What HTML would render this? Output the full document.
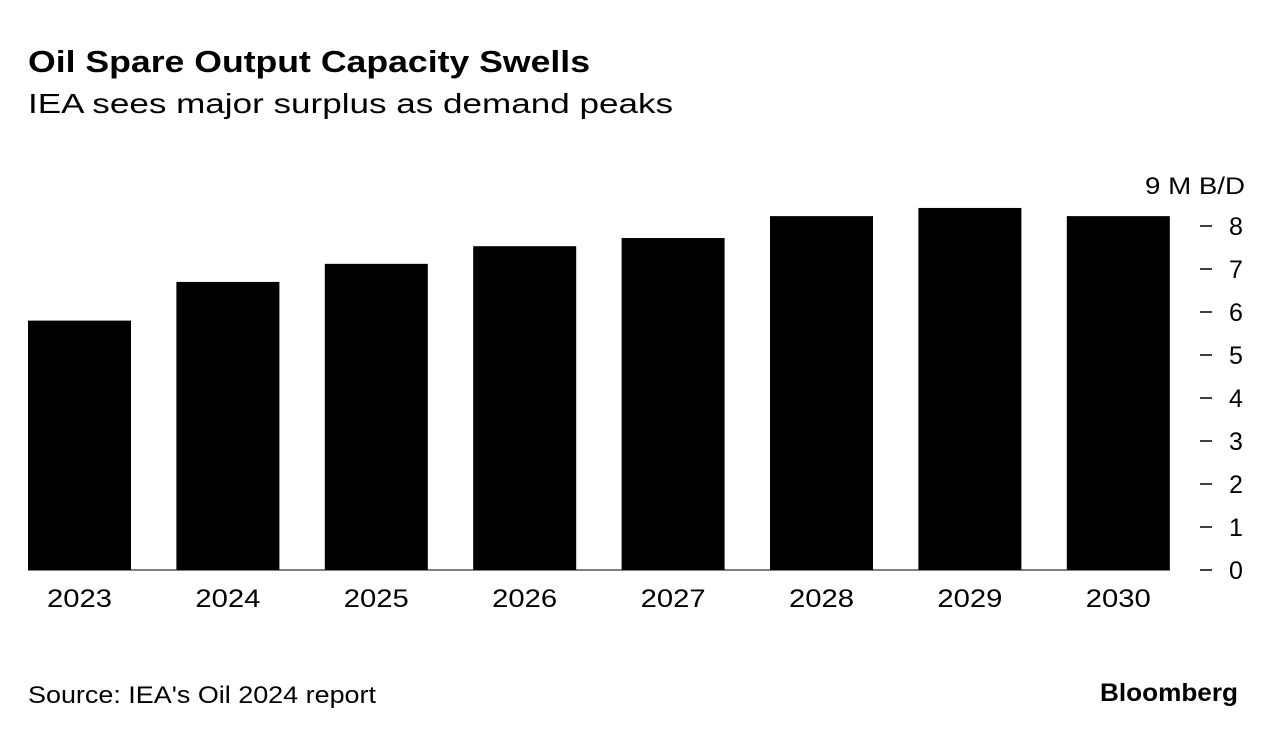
<!DOCTYPE html>
<html><head><meta charset="utf-8"><style>
body{margin:0;background:#fff;width:1278px;height:736px;overflow:hidden;font-family:"Liberation Sans",sans-serif}
svg{display:block}
</style></head><body>
<svg width="1278" height="736" id="c">
<text x="28" y="72" font-size="31" font-weight="bold" fill="#000" textLength="562" lengthAdjust="spacingAndGlyphs">Oil Spare Output Capacity Swells</text>
<text x="28" y="113" font-size="28" fill="#000" textLength="645" lengthAdjust="spacingAndGlyphs">IEA sees major surplus as demand peaks</text>
<text x="1145" y="194" font-size="24" fill="#000" textLength="100" lengthAdjust="spacingAndGlyphs">9 M B/D</text>
<text x="28" y="703" font-size="24" fill="#000" textLength="348" lengthAdjust="spacingAndGlyphs">Source: IEA's Oil 2024 report</text>
<text x="1100" y="701" font-size="25" font-weight="bold" fill="#000" textLength="138" lengthAdjust="spacingAndGlyphs">Bloomberg</text>
<g id="bars"></g><g id="axis"></g>
</svg>
<script>
const categories=["2023","2024","2025","2026","2027","2028","2029","2030"];
const values=[5.8,6.7,7.12,7.53,7.72,8.23,8.42,8.23];
const ticks=[0,1,2,3,4,5,6,7,8];
const NS="http://www.w3.org/2000/svg";
const y0=570,yk=43,x0=28,step=148.4,bw=103;
const y=v=>y0-v*yk;
const bars=document.getElementById('bars'),axis=document.getElementById('axis');
categories.forEach((c,i)=>{
 const r=document.createElementNS(NS,'rect');
 r.setAttribute('x',x0+i*step);r.setAttribute('y',y(values[i]));
 r.setAttribute('width',bw);r.setAttribute('height',y0-y(values[i]));r.setAttribute('fill','#000');
 
 
 bars.appendChild(r);
 const t=document.createElementNS(NS,'text');
 t.setAttribute('x',x0+i*step+bw/2-32.5);t.setAttribute('y',607);t.setAttribute('font-size','25');
 t.setAttribute('textLength','65');t.setAttribute('lengthAdjust','spacingAndGlyphs');
 t.textContent=c;
 
 
 axis.appendChild(t);
});
ticks.forEach(v=>{
 const l=document.createElementNS(NS,'line');
 l.setAttribute('x1',1200);l.setAttribute('x2',1212);l.setAttribute('y1',y(v));l.setAttribute('y2',y(v));
 l.setAttribute('stroke','#000');l.setAttribute('stroke-width','1.5');
 
 
 axis.appendChild(l);
 const t=document.createElementNS(NS,'text');
 t.setAttribute('x',1236);t.setAttribute('y',y(v)+9);t.setAttribute('font-size','25');
 t.setAttribute('text-anchor','middle');t.textContent=v;
 
 
 axis.appendChild(t);
});
const b=document.createElementNS(NS,'line');
b.setAttribute('x1',28);b.setAttribute('x2',1170);b.setAttribute('y1',y0);b.setAttribute('y2',y0);
b.setAttribute('stroke','#000');b.setAttribute('stroke-width','1');


axis.appendChild(b);
</script>
</body></html>
